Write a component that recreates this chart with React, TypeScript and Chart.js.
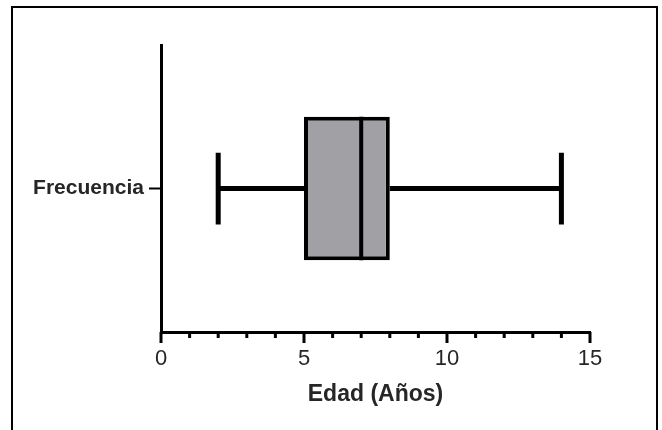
import React, { useEffect, useRef } from 'react';
import { Chart, registerables } from 'chart.js';

Chart.register(...registerables);

const categories = ['Frecuencia'];
const whiskerMin = [2];
const q1 = [5];
const median = [7];
const q3 = [8];
const whiskerMax = [14];
const xTickLabels = [0, 5, 10, 15];
const xMinorTicks = [0, 1, 2, 3, 4, 5, 6, 7, 8, 9, 10, 11, 12, 13, 14, 15];
const xTitle = 'Edad (Años)';

const FONT = "'Liberation Sans', Arial, sans-serif";
const TEXT = '#262626';

const boxPlugin = {
  id: 'boxExtras',
  beforeDatasetsDraw(chart: any) {
    const ctx = chart.ctx;
    const xs = chart.scales.x;
    const meta = chart.getDatasetMeta(0);
    ctx.save();
    ctx.strokeStyle = '#000';
    ctx.lineCap = 'butt';
    categories.forEach((_, i) => {
      const el = meta.data[i];
      const y = el.y;
      const cap = el.height / 4;
      const xl = xs.getPixelForValue(whiskerMin[i]);
      const xr = xs.getPixelForValue(whiskerMax[i]);
      ctx.lineWidth = 5;
      ctx.beginPath();
      ctx.moveTo(xl, y);
      ctx.lineTo(xs.getPixelForValue(q1[i]), y);
      ctx.moveTo(xs.getPixelForValue(q3[i]), y);
      ctx.lineTo(xr, y);
      ctx.stroke();
      ctx.beginPath();
      ctx.moveTo(xl, y - cap);
      ctx.lineTo(xl, y + cap);
      ctx.moveTo(xr, y - cap);
      ctx.lineTo(xr, y + cap);
      ctx.stroke();
    });
    ctx.restore();
  },
  afterDatasetsDraw(chart: any) {
    const ctx = chart.ctx;
    const xs = chart.scales.x;
    const meta = chart.getDatasetMeta(0);
    ctx.save();
    ctx.strokeStyle = '#000';
    ctx.lineWidth = 4;
    categories.forEach((_, i) => {
      const el = meta.data[i];
      const xm = xs.getPixelForValue(median[i]);
      ctx.beginPath();
      ctx.moveTo(xm, el.y - el.height / 2);
      ctx.lineTo(xm, el.y + el.height / 2);
      ctx.stroke();
    });
    ctx.restore();
  },
  afterDraw(chart: any) {
    const ctx = chart.ctx;
    const xs = chart.scales.x;
    const base = chart.chartArea.bottom;
    ctx.save();
    ctx.strokeStyle = '#000';
    xMinorTicks.forEach((v) => {
      const major = xTickLabels.includes(v);
      const x = xs.getPixelForValue(v);
      ctx.lineWidth = 3;
      ctx.beginPath();
      ctx.moveTo(x, base);
      ctx.lineTo(x, base + (major ? 11 : 6));
      ctx.stroke();
    });
    // outer frame
    ctx.lineWidth = 2;
    ctx.beginPath();
    ctx.moveTo(12, 440);
    ctx.lineTo(12, 7);
    ctx.lineTo(657, 7);
    ctx.lineTo(657, 440);
    ctx.stroke();
    ctx.restore();
  },
};

export default function App() {
  const ref = useRef<HTMLCanvasElement>(null);
  useEffect(() => {
    if (!ref.current) return;
    const chart = new Chart(ref.current, {
      type: 'bar',
      data: {
        labels: categories,
        datasets: [
          {
            data: categories.map((_, i) => [q1[i], q3[i]]) as any,
            backgroundColor: '#a0a0a5',
            borderColor: '#000',
            borderWidth: 4,
            borderSkipped: false,
            barPercentage: 0.5,
            categoryPercentage: 1,
          },
        ],
      },
      options: {
        indexAxis: 'y',
        responsive: false,
        animation: false,
        events: [],
        layout: { padding: { top: 45, right: 72, left: 0, bottom: 0 } },
        plugins: { legend: { display: false }, tooltip: { enabled: false }, title: { display: false } },
        scales: {
          x: {
            type: 'linear',
            min: 0,
            max: 15,
            afterFit: (s: any) => { s.height = 98; },
            grid: { display: false, drawTicks: false },
            border: { display: true, color: '#000', width: 3 },
            ticks: {
              stepSize: 5,
              padding: 14,
              color: TEXT,
              font: { family: FONT, size: 22 },
              maxRotation: 0,
              callback: (v: any) => (xTickLabels.includes(Number(v)) ? String(v) : ''),
            },
            title: {
              display: true,
              text: xTitle,
              color: TEXT,
              font: { family: FONT, size: 23, weight: 'bold' },
              padding: { top: 0, bottom: 22 },
            },
          },
          y: {
            type: 'category',
            afterFit: (s: any) => { s.width = 161; },
            grid: { display: true, drawOnChartArea: false, offset: false, tickLength: 12, tickWidth: 2, tickColor: '#000' },
            border: { display: true, color: '#000', width: 3 },
            ticks: { padding: 5, color: TEXT, font: { family: FONT, size: 21, weight: 'bold' } },
          },
        },
      },
      plugins: [boxPlugin],
    });
    return () => chart.destroy();
  }, []);
  return (
    <div style={{ position: 'fixed', left: 0, top: 0, width: 662, height: 430, background: '#fff' }}>
      <canvas ref={ref} width={662} height={430} style={{ width: 662, height: 430, display: 'block' }} />
    </div>
  );
}
